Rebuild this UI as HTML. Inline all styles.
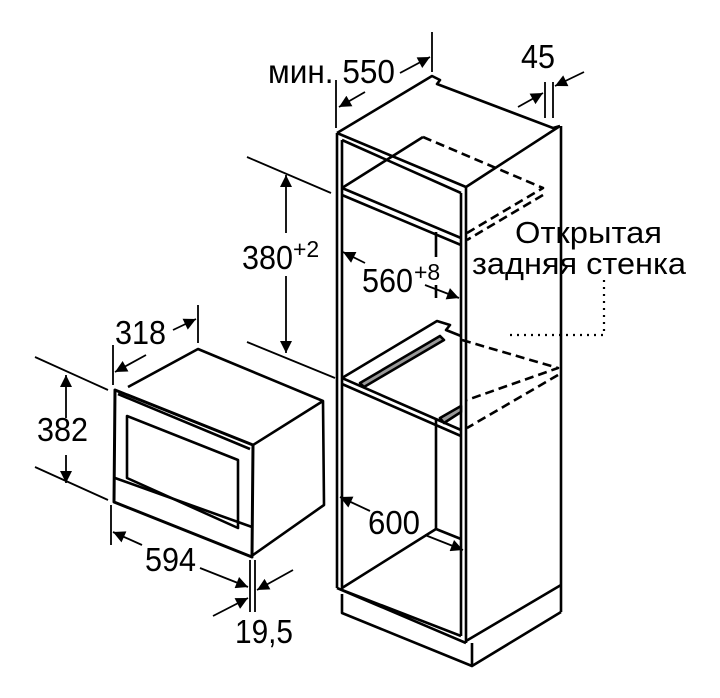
<!DOCTYPE html>
<html><head><meta charset="utf-8"><style>
html,body{margin:0;padding:0;background:#fff}
svg{display:block}
text{font-family:"Liberation Sans","DejaVu Sans",sans-serif;fill:#000}
</style></head><body>
<svg width="720" height="698" viewBox="0 0 720 698" xmlns="http://www.w3.org/2000/svg">
<defs>
<marker id="a" viewBox="0 0 10 10" refX="10" refY="5" markerWidth="18" markerHeight="12" markerUnits="userSpaceOnUse" orient="auto"><path d="M0,0 L10,5 L0,10 z" fill="#000"/></marker>
</defs>
<g stroke="#000" fill="none" stroke-width="2.6" stroke-linejoin="round">
<path d="M337,133 L337,588 M342,140 L342,590"/>
<path d="M337,133 L432,76 L440,80 L437,84 L553,128 L560,126"/>
<path d="M337,133 L466,187 L560,126"/>
<path d="M466,187 L466,643 M461,193 L461,636"/>
<path d="M342,140 L461,193"/>
<path d="M561,126 L561,612"/>
<path d="M342,188 L461,238 M342,195 L461,245"/>
<path d="M342,188 L423,137"/>
<path d="M423,137 L543,188 L467,233 M543,195 L467,240" stroke-dasharray="9,5"/>
<path d="M436,232 L436,257 M436,285 L436,298"/>
<path d="M342,378 L461,430 M342,384 L461,436"/>
<path d="M342,378 L437,321 L450,325 L446,330 L461,336"/>
<path d="M462,340 L558,368 L467,400 M558,375 L467,428" stroke-dasharray="9,5"/>
<path d="M360,383 L440,336 L444,340 L364,387 Z" fill="#999"/>
<path d="M440,418 L461,406 L461,412 L444,423 Z" fill="#999"/>
<path d="M436,420 L436,529"/>
<path d="M342,588 L436,529 L461,539"/>
<path d="M337,588 L466,643 M342,590 L461,636"/>
<path d="M342,594 L342,613 L472,666 L472,643 M472,666 L561,612 M466,641 L561,585"/>
<path d="M115,390 L253,445 L252,557 L114,502 Z" stroke-width="3"/>
<path d="M118,394 L250,449"/>
<path d="M127,416 L238,460 L238,528 L127,478 Z"/>
<path d="M115,478 L252,527"/>
<path d="M128,387 L198,349 L323,401 L324,505 L253,555"/>
<path d="M253,445 L323,401"/>
<path d="M35,357 L108,390 M35,467 L108,500" stroke-width="1.8"/>
<path d="M113,345 L113,385 M198,305 L198,343" stroke-width="1.8"/>
<path d="M111,505 L111,545 M250,560 L250,612 M255,560 L255,612" stroke-width="1.8"/>
<path d="M247,157 L331,193 M247,342 L335,378" stroke-width="1.8"/>
<path d="M336,80 L336,128 M432,32 L432,72 M545,82 L545,118 M553,82 L553,118" stroke-width="1.8"/>
<g stroke-width="1.8" marker-end="url(#a)">
<path d="M66,418 L66,375"/><path d="M66,455 L66,483"/>
<path d="M146,355 L115,372"/><path d="M173,330 L196,319"/>
<path d="M142,545 L113,532"/><path d="M200,568 L248,587"/>
<path d="M293,570 L257,590"/><path d="M213,616 L248,598"/>
<path d="M286,233 L286,175"/><path d="M286,276 L286,353"/>
<path d="M365,263 L343,252"/><path d="M425,285 L459,298"/>
<path d="M370,511 L340,497"/><path d="M425,535 L463,550"/>
<path d="M365,92 L339,107"/><path d="M400,73 L430,57"/>
<path d="M518,107 L543,93"/><path d="M584,72 L555,86"/>
</g>
<path d="M604,280 L604,335 L505,335" stroke-width="2.2" stroke-dasharray="2,5"/>
</g>
<g font-size="33">
<text x="37" y="441" textLength="51" lengthAdjust="spacingAndGlyphs">382</text>
<text x="115" y="344" textLength="51" lengthAdjust="spacingAndGlyphs">318</text>
<text x="145" y="571" textLength="51" lengthAdjust="spacingAndGlyphs">594</text>
<text x="235" y="643" textLength="58" lengthAdjust="spacingAndGlyphs">19,5</text>
<text x="242" y="269" textLength="51" lengthAdjust="spacingAndGlyphs">380</text><text x="293" y="257" font-size="23">+2</text>
<text x="362" y="292" textLength="51" lengthAdjust="spacingAndGlyphs">560</text><text x="414" y="280" font-size="23">+8</text>
<text x="368" y="534" textLength="52" lengthAdjust="spacingAndGlyphs">600</text>
<text x="268" y="83" textLength="127" lengthAdjust="spacingAndGlyphs">мин. 550</text>
<text x="521" y="68" textLength="34" lengthAdjust="spacingAndGlyphs">45</text>
<text x="515" y="243" font-size="31" textLength="147" lengthAdjust="spacingAndGlyphs">Открытая</text>
<text x="472" y="274" font-size="31" textLength="214" lengthAdjust="spacingAndGlyphs">задняя стенка</text>
</g>
</svg>
</body></html>
